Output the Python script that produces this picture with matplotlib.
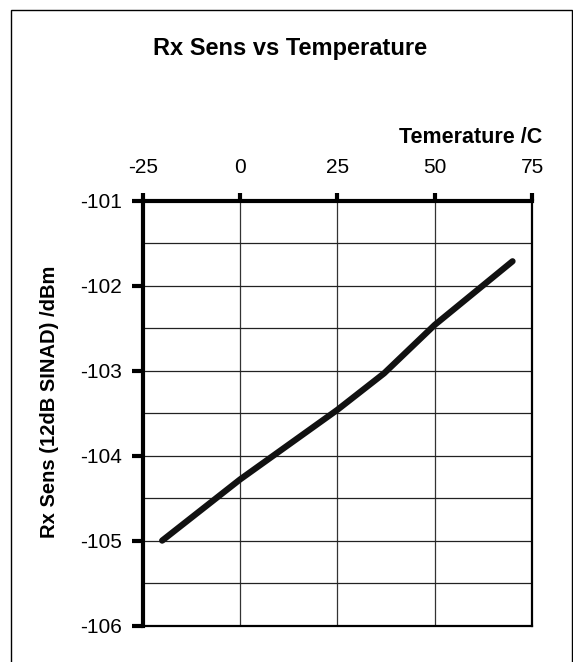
import matplotlib
matplotlib.use("Agg")
import matplotlib.pyplot as plt
from matplotlib.patches import Rectangle
from matplotlib.ticker import MultipleLocator

plt.rcParams['font.family'] = ['Liberation Sans', 'DejaVu Sans']

# --- datos ---
temperature = [-20, 0, 25, 37, 50, 70]
rx_sens = [-105.0, -104.28, -103.46, -103.03, -102.46, -101.71]

x_ticks = [-25, 0, 25, 50, 75]
y_ticks = [-106, -105, -104, -103, -102, -101]

W, H = 573, 662
fig = plt.figure(figsize=(W / 100, H / 100), dpi=100)
ax = fig.add_axes([142.7 / W, 1 - 625.5 / H, (532 - 142.7) / W, (625.5 - 201) / H])

# borde exterior del grafico
fig.patches.append(Rectangle((11 / W, -0.05), (571.5 - 11) / W, 1.05 - 10 / H,
                             transform=fig.transFigure, fill=False,
                             edgecolor='black', linewidth=1.0))

ax.plot(temperature, rx_sens, color='#111111', linewidth=4.5,
        solid_capstyle='round', solid_joinstyle='round', zorder=3)

ax.set_xlim(-25, 75)
ax.set_ylim(-106, -101)
ax.xaxis.tick_top()
ax.set_xticks(x_ticks)
ax.set_yticks(y_ticks)
ax.set_xticklabels([str(v) for v in x_ticks])
ax.set_yticklabels([str(v) for v in y_ticks])
ax.yaxis.set_minor_locator(MultipleLocator(0.5))

ax.grid(True, which='major', axis='x', color='#333333', linewidth=0.9)
ax.grid(True, which='both', axis='y', color='#222222', linewidth=0.9)
ax.set_axisbelow(True)

ax.tick_params(axis='x', which='major', direction='out', length=6, width=3,
               labelsize=15, pad=11)
ax.tick_params(axis='y', which='major', direction='out', length=8, width=3,
               labelsize=15, pad=7)
ax.tick_params(axis='y', which='minor', length=0)

for side in ['left', 'top']:
    ax.spines[side].set_linewidth(3.0)
for side in ['right', 'bottom']:
    ax.spines[side].set_linewidth(1.6)

fig.text(290 / W, 1 - 55 / H, 'Rx Sens vs Temperature', ha='center',
         va='baseline', fontsize=17, fontweight='bold')
fig.text(542 / W, 1 - 143 / H, 'Temerature /C', ha='right',
         va='baseline', fontsize=15.5, fontweight='bold')
fig.text(50 / W, 1 - 402 / H, 'Rx Sens (12dB SINAD) /dBm', ha='center',
         va='center', rotation=90, fontsize=14.5, fontweight='bold')

fig.savefig('out.png', dpi=100)
